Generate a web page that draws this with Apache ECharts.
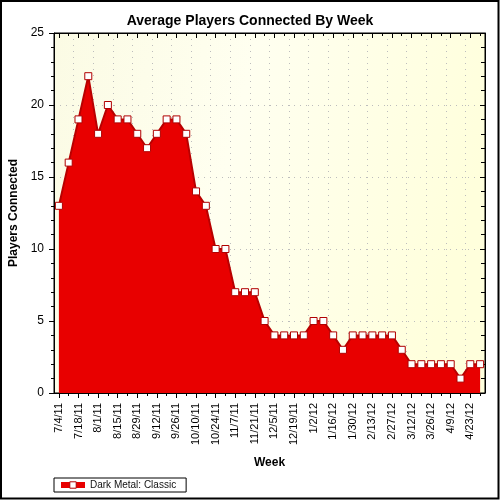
<!DOCTYPE html>
<html><head><meta charset="utf-8">
<script src="https://cdn.jsdelivr.net/npm/echarts@6/dist/echarts.min.js"></script>
<style>html,body{margin:0;padding:0;background:#fff}#c{width:500px;height:500px}</style>
</head><body><div id="c"></div>
<script>
var weeks = ['7/4/11','7/11/11','7/18/11','7/25/11','8/1/11','8/8/11','8/15/11','8/22/11','8/29/11','9/5/11','9/12/11','9/19/11','9/26/11','10/3/11','10/10/11','10/17/11','10/24/11','10/31/11','11/7/11','11/14/11','11/21/11','11/28/11','12/5/11','12/12/11','12/19/11','12/26/11','1/2/12','1/9/12','1/16/12','1/23/12','1/30/12','2/6/12','2/13/12','2/20/12','2/27/12','3/5/12','3/12/12','3/19/12','3/26/12','4/2/12','4/9/12','4/16/12','4/23/12','4/30/12'];
var players = [13,16,19,22,18,20,19,19,18,17,18,19,19,18,14,13,10,10,7,7,7,5,4,4,4,4,5,5,4,3,4,4,4,4,4,3,2,2,2,2,2,1,2,2];
var seriesName = 'Dark Metal: Classic';
var yTicks = {min: 0, max: 25, interval: 5};

var FONT = '"Liberation Sans", Arial, sans-serif';
var chart = echarts.init(document.getElementById('c'), null, {renderer: 'canvas'});
var baseX = {
  type: 'category', data: weeks, boundaryGap: true, gridIndex: 0
};
var dotted = {color: '#bdbdbd', type: [1, 5], width: 1};
chart.setOption({
  animation: false,
  title: {
    text: 'Average Players Connected By Week', left: 'center', top: 9,
    textStyle: {fontFamily: FONT, fontSize: 14, fontWeight: 'bold', color: '#000'}
  },
  legend: {
    left: 54, top: 478, orient: 'horizontal',
    borderColor: '#000', borderWidth: 1, borderRadius: 0, padding: [2, 10, 2, 4],
    itemWidth: 24, itemHeight: 8, itemGap: 6,
    textStyle: {fontFamily: FONT, fontSize: 10, color: '#111'},
    lineStyle: {width: 6, color: '#e80000'},
    itemStyle: {color: '#fff', borderColor: '#b00000', borderWidth: 1},
    data: [seriesName]
  },
  graphic: [{
    type: 'rect', shape: {x: 1, y: 1, width: 497.5, height: 497.5},
    style: {fill: 'none', stroke: '#000', lineWidth: 2}, silent: true, z: 100
  }],
  grid: {
    left: 54, right: 15, top: 33, bottom: 107, show: true,
    outerBoundsMode: 'none', containLabel: false,
    borderColor: '#000', borderWidth: 1,
    backgroundColor: {type: 'linear', x: 0, y: 0, x2: 1, y2: 0.3,
      colorStops: [{offset: 0, color: '#fbfbe4'}, {offset: 0.45, color: '#fffff0'}, {offset: 1, color: '#ffffdc'}]}
  },
  xAxis: [
    Object.assign({}, baseX, {
      position: 'bottom',
      name: 'Week', nameLocation: 'middle', nameGap: 64,
      nameTextStyle: {fontFamily: FONT, fontSize: 12, fontWeight: 'bold', color: '#000'},
      axisLine: {show: true, lineStyle: {color: '#000', width: 1}},
      axisTick: {show: true, alignWithLabel: true, interval: 1, length: 5, lineStyle: {color: '#000', width: 1}},
      axisLabel: {interval: 1, rotate: 90, margin: 10, fontFamily: FONT, fontSize: 11, color: '#000'},
      splitLine: {show: true, interval: 1, lineStyle: dotted}
    }),
    Object.assign({}, baseX, {
      position: 'bottom', offset: 0,
      axisLine: {show: false},
      axisTick: {show: true, alignWithLabel: true, interval: 0, length: 3, lineStyle: {color: '#000', width: 1}},
      axisLabel: {show: false}, splitLine: {show: false}
    }),
    Object.assign({}, baseX, {
      position: 'top', offset: 0,
      axisLine: {show: true, lineStyle: {color: '#000', width: 1}},
      axisTick: {show: true, inside: true, alignWithLabel: true, interval: 1, length: 5, lineStyle: {color: '#000', width: 1}},
      axisLabel: {show: false}, splitLine: {show: false}
    }),
    Object.assign({}, baseX, {
      position: 'top', offset: 0,
      axisLine: {show: false},
      axisTick: {show: true, inside: true, alignWithLabel: true, interval: 0, length: 3, lineStyle: {color: '#000', width: 1}},
      axisLabel: {show: false}, splitLine: {show: false}
    })
  ],
  yAxis: [
    {
      type: 'value', position: 'left', min: yTicks.min, max: yTicks.max, interval: yTicks.interval,
      name: 'Players Connected', nameLocation: 'middle', nameGap: 30,
      nameTextStyle: {fontFamily: FONT, fontSize: 12, fontWeight: 'bold', color: '#000'},
      axisLine: {show: true, lineStyle: {color: '#000', width: 1}},
      axisTick: {show: true, length: 5, lineStyle: {color: '#000'}},
      minorTick: {show: true, splitNumber: 5, length: 3, lineStyle: {color: '#000'}},
      axisLabel: {margin: 10, fontFamily: FONT, fontSize: 12, color: '#000'},
      splitLine: {show: true, lineStyle: dotted}
    },
    {
      type: 'value', position: 'right', min: yTicks.min, max: yTicks.max, interval: yTicks.interval,
      axisLine: {show: true, lineStyle: {color: '#000', width: 1}},
      axisTick: {show: true, inside: true, length: 5, lineStyle: {color: '#000'}},
      minorTick: {show: true, splitNumber: 5, length: 4, lineStyle: {color: '#000'}},
      axisLabel: {show: false}, splitLine: {show: false}
    }
  ],
  series: [{
    name: seriesName, type: 'line', data: players, xAxisIndex: 0, yAxisIndex: 0,
    symbol: 'rect', symbolSize: 7, showAllSymbol: true,
    itemStyle: {color: '#fff', borderColor: '#b00000', borderWidth: 1},
    lineStyle: {color: '#b80000', width: 2},
    areaStyle: {color: '#e80000', opacity: 1},
    z: 3
  }]
});
</script></body></html>
